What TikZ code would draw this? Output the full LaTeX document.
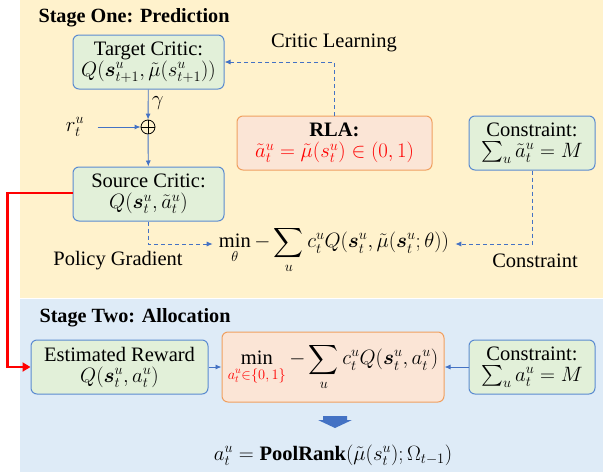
\documentclass[tikz,border=0pt]{standalone}
\usepackage{amsmath,bm}
\usepackage{fontspec}
\setmainfont{Liberation Serif}
\usetikzlibrary{arrows.meta}
\definecolor{ybg}{HTML}{FFF2CC}
\definecolor{bbg}{HTML}{DEEBF7}
\definecolor{gfill}{HTML}{E2F0D9}
\definecolor{bord}{HTML}{5B8BD0}
\definecolor{ofill}{HTML}{FBE5D6}
\definecolor{obord}{HTML}{F0A060}
\definecolor{arrb}{HTML}{4472C4}
\begin{document}
\begin{tikzpicture}[x=1pt,y=-1pt,
  every node/.style={font=\fontsize{20.5}{22}\selectfont},
  gbox/.style={draw=bord, fill=gfill, rounded corners=6pt, line width=1pt, align=center, inner sep=0pt, minimum width=151pt, minimum height=54pt},
  obox/.style={gbox, draw=obord, fill=ofill},
  arr/.style={draw=arrb, line width=0.9pt, -{Latex[length=6pt,width=5pt]}},
  darr/.style={arr, dash pattern=on 4pt off 3pt},
  title/.style={anchor=west, font=\fontsize{20.2}{22}\selectfont\bfseries}]
\useasboundingbox (0,0) rectangle (603,472);
\fill[ybg] (20,0) rectangle (603,298);
\fill[bbg] (20,299) rectangle (603,472);

\node[title] (s1) at (35,18) {Stage One: Prediction};
\node[title] (s2) at (36,318) {Stage Two: Allocation};

\node[gbox] (tc) at (148.5,62) {Target Critic:\\[-1pt] $Q(\boldsymbol{s}_{t+1}^u,\tilde{\mu}(s_{t+1}^u))$};
\node[circle, draw, line width=0.8pt, minimum size=14pt, inner sep=0pt,
  path picture={\draw[line width=0.8pt] (path picture bounding box.north) -- (path picture bounding box.south) (path picture bounding box.west) -- (path picture bounding box.east);}] (op) at (148,127) {};
\node (r) at (75,127) {$r_t^u$};
\node[gbox] (sc) at (148.5,194) {Source Critic:\\[-1pt] $Q(\boldsymbol{s}_t^u,\tilde{a}_t^u)$};
\node[obox, minimum width=195pt] (rla) at (334.5,143) {\textbf{RLA:}\\[-1pt] \textcolor{red}{$\tilde a_t^u=\tilde\mu(s_t^u)\in(0,1)$}};
\node[gbox, minimum width=126pt] (c1) at (532,143) {Constraint:\\[-1pt] $\sum_u\tilde a_t^u=M$};
\node[inner sep=0pt] (obj) at (334,250) {$\displaystyle\min_\theta - \sum_u c_t^u Q(\boldsymbol{s}_t^u,\tilde\mu(\boldsymbol{s}_t^u;\theta))$};

\node (cl) at (334,43) {Critic Learning};
\node (pg) at (118,261) {Policy Gradient};
\node (cn) at (535,261) {Constraint};

\draw[arr] (tc) -- node[right, pos=0.45] {$\gamma$} (op);
\draw[arr] ([xshift=10pt]r.east) -- (op);
\draw[arr] (op) -- (sc);
\draw[darr] (rla.north) |- (tc.east);
\draw[darr] (sc.south) |- ([yshift=6pt,xshift=-6pt]obj.west);
\draw[darr] (c1.south) |- ([yshift=6pt,xshift=6pt]obj.east);

\node[gbox, minimum width=177pt] (er) at (119.5,367) {Estimated Reward\\[-1pt] $Q(\boldsymbol{s}_t^u,a_t^u)$};
\node[obox, minimum width=222pt, minimum height=70pt] (o2) at (333,367) {$\displaystyle\min_{\mbox{\fontsize{14.5}{15}\selectfont\color{red}$a_t^u{\in}\{0,1\}$}} -\sum_u c_t^u Q(\boldsymbol{s}_t^u,a_t^u)$};
\node[gbox, minimum width=126pt] (c2) at (532,367) {Constraint:\\[-1pt] $\sum_u a_t^u=M$};
\node (res) at (333,455) {$a_t^u=\textbf{PoolRank}(\tilde\mu(s_t^u);\Omega_{t-1})$};

\draw[arr] (er) -- (o2);
\draw[arr] (c2) -- (o2);
\draw[red, line width=2.4pt, -{Triangle[length=8pt,width=9pt]}] ([yshift=1pt]sc.west) -- ++(-65pt,0) |- (er.west);
\fill[arrb] (323,416) -- (347,416) -- (347,420) -- (352,420) -- (335,428) -- (318,420) -- (323,420) -- cycle;
\end{tikzpicture}
\end{document}
